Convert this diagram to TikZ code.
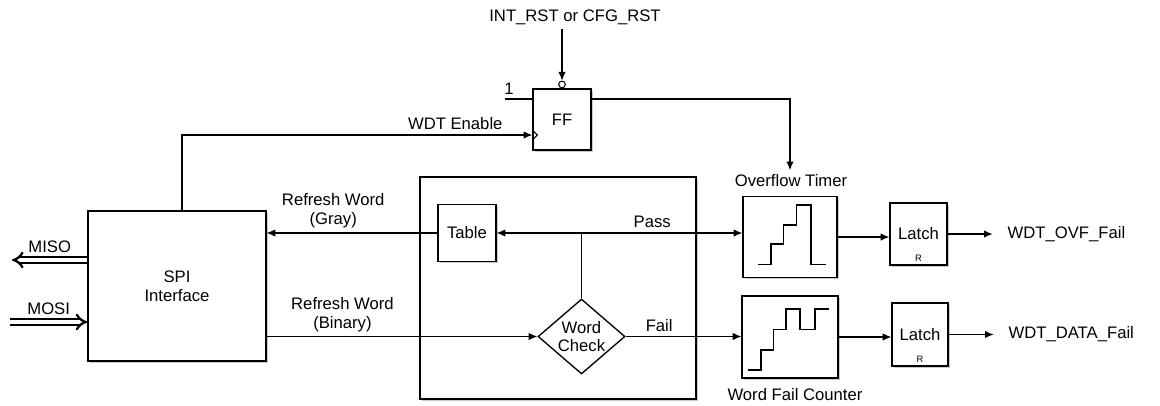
\documentclass[tikz,border=0pt]{standalone}
\usepackage{fontspec}
\setmainfont{Liberation Sans}
\usetikzlibrary{arrows.meta,shapes.geometric,shadows,calc}

\begin{document}
\begin{tikzpicture}[x=.75pt,y=-.75pt,font=\fontsize{12.5}{14}\selectfont,
  blk/.style={draw,line width=1pt,fill=white,align=center,
    drop shadow={shadow xshift=1.4pt,shadow yshift=-1.4pt,fill=black!35,opacity=.6}},
  wire/.style={line width=.8pt},
  arr/.style={line width=.8pt,-{Latex[length=6.5pt,width=5.5pt]}},
  dbl/.style={double,line width=1.7pt,double distance=2.4pt,-{Implies}},
  latchr/.style={font=\fontsize{7}{8}\selectfont,anchor=south,inner sep=3pt}]
\useasboundingbox (0,0) rectangle (1160,405);
\node[blk,minimum width=133.5pt,minimum height=112.5pt] (spi) at (177,286) {SPI\\Interface};
\node[blk,minimum width=43.5pt,minimum height=45.75pt] (ff) at (562,119.5) {FF};
\node[blk,minimum width=207pt,minimum height=166.5pt] (chkbox) at (558,288) {};
\node[blk,minimum width=43.5pt,minimum height=42.75pt] (tab) at (467,233) {Table};
\node[draw,line width=1pt,fill=white,diamond,aspect=1.16,inner sep=0pt,minimum width=65.25pt,minimum height=56.25pt,align=center] (chk) at (581.5,336.5) {Word\\Check};
\node[blk,minimum width=70.5pt,minimum height=60.75pt] (ovf) at (790,237) {};
\node[blk,minimum width=72pt,minimum height=61.5pt] (cnt) at (790,337) {};
\node[blk,minimum width=42.75pt,minimum height=46.5pt,label={[latchr]south:R}] (lat1) at (918.5,234) {Latch};
\node[blk,minimum width=42pt,minimum height=47.25pt,label={[latchr]south:R}] (lat2) at (920,334.5) {Latch};
\node (ovflbl) at (791,181) {Overflow Timer};
\node (cntlbl) at (795,395) {Word Fail Counter};
\node (rst) at (575,17) {INT\_RST or CFG\_RST};
\node[anchor=west,inner sep=1pt] (out1) at (1006,234) {WDT\_OVF\_Fail};
\node[anchor=west,inner sep=1pt] (out2) at (1007,334.5) {WDT\_DATA\_Fail};
\node[draw,circle,line width=.8pt,inner sep=0pt,minimum size=5pt,anchor=south] (bub) at (ff.north) {};
% flip-flop inputs
\draw[arr] (rst.south -| bub.north) -- (bub.north);
\draw[wire] ($(ff.west)+(0,10.5)$) -- ++(5,5) -- ++(-5,5);
\coordinate (clk) at ($(ff.west)+(0,15.5)$);
\coordinate (one) at (505,99);
\draw[wire] (one) -- (one -| ff.west) node[pos=.15,above] {1};
\draw[arr] ($(spi.north)+(5,0)$) |- (clk) node[pos=.89,above] {WDT Enable};
\draw[arr] (ff.east |- one) -| (ovflbl.north -| ovf.north);
% word check
\coordinate (pj) at (chk.north |- tab.east);
\draw[wire] (chk.north) -- (pj);
\draw[arr] (pj) -- (tab.east);
\draw[arr] (pj) -- (pj -| ovf.west) node[pos=.44,above] {Pass};
\draw[arr] (chk.east) -- (chk.east -| cnt.west) node[pos=.29,above] {Fail};
\draw[arr] (tab.west) -- (tab.west -| spi.east) node[pos=.61,above,align=center] {Refresh Word\\(Gray)};
\draw[arr] (spi.east |- chk.west) -- (chk.west) node[pos=.28,above,align=center] {Refresh Word\\(Binary)};
% outputs
\draw[arr] (ovf.east) -- (ovf.east -| lat1.west);
\draw[arr] (cnt.east) -- (cnt.east -| lat2.west);
\draw[arr,shorten >=10pt] (lat1.east) -- (out1.west);
\draw[arr,shorten >=10pt] (lat2.east) -- (out2.west);
% SPI bus
\coordinate (misoend) at (12,260);
\coordinate (mosibeg) at (10,322);
\draw[dbl] (spi.west |- misoend) -- (misoend) node[midway,above=1pt] {MISO};
\draw[dbl] (mosibeg) -- (mosibeg -| spi.west) node[midway,above=1pt] {MOSI};
% waveforms
\draw[wire,shift={(ovf.center)}] (-31.7,27.3) -- (-19,27.3) -- (-19,7) -- (-6.7,7) -- (-6.7,-12) -- (6.7,-12) -- (6.7,-32) -- (21,-32) -- (21,27.3) -- (36,27.3);
\draw[wire,shift={(cnt.center)}] (-41.7,33) -- (-29,33) -- (-29,13) -- (-16.7,13) -- (-16.7,-7.7) -- (-4,-7.7) -- (-4,-28) -- (10,-28) -- (10,-7.7) -- (25,-7.7) -- (25,-28) -- (39,-28);
\end{tikzpicture}
\end{document}
